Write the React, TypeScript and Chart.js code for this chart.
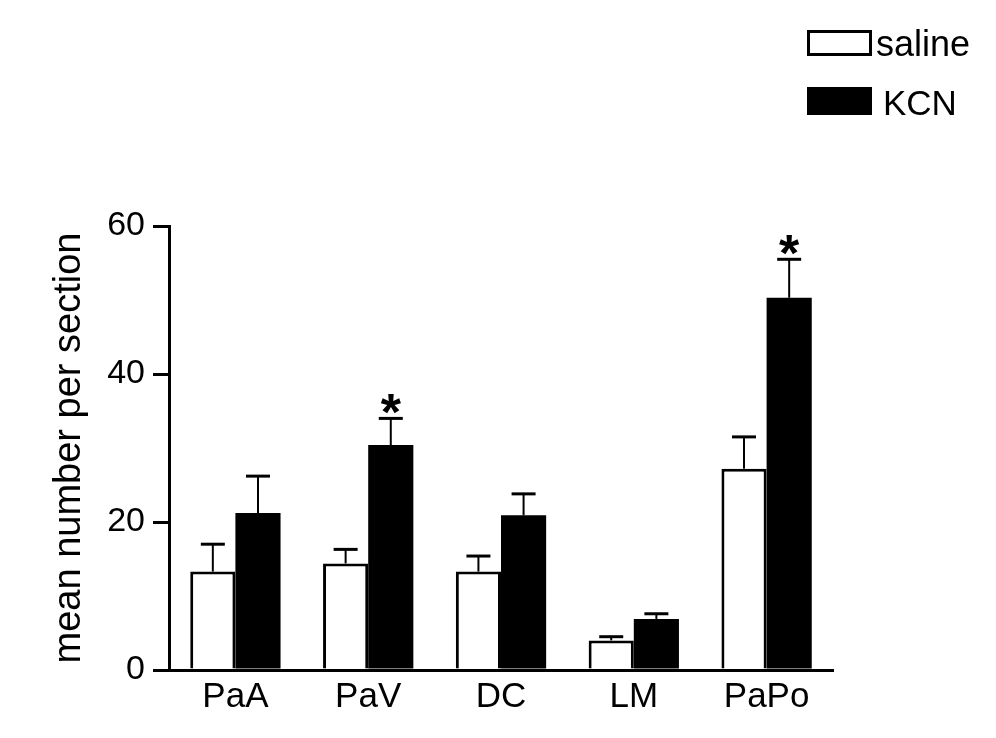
import React, { useEffect, useRef } from 'react';
import { Chart, registerables } from 'chart.js';

Chart.register(...registerables);

const categories = ['PaA', 'PaV', 'DC', 'LM', 'PaPo'];
const salineValues = [13.3, 14.4, 13.3, 4.0, 27.2];
const salineErrors = [3.7, 1.9, 2.1, 0.5, 4.3];
const kcnValues = [21.2, 30.4, 20.9, 6.9, 50.3];
const kcnErrors = [5.0, 3.6, 2.9, 0.7, 5.2];
const significant = [false, true, false, false, true];
const yTicks = [0, 20, 40, 60];
const seriesNames = ['saline', 'KCN'];
const yTitle = 'mean number per section';

const FONT = '"Liberation Sans", Arial, Helvetica, sans-serif';

const errorBarPlugin = {
  id: 'errorBars',
  afterDatasetsDraw(chart: any) {
    const ctx = chart.ctx;
    const y = chart.scales.y;
    const errs = [salineErrors, kcnErrors];
    chart.data.datasets.forEach((ds: any, di: number) => {
      const meta = chart.getDatasetMeta(di);
      meta.data.forEach((bar: any, i: number) => {
        const v = ds.data[i];
        const top = y.getPixelForValue(v + errs[di][i]);
        const base = y.getPixelForValue(v);
        ctx.save();
        ctx.strokeStyle = '#000';
        ctx.lineWidth = 2;
        ctx.beginPath();
        ctx.moveTo(bar.x, base);
        ctx.lineTo(bar.x, top);
        ctx.stroke();
        ctx.lineWidth = 3;
        ctx.beginPath();
        ctx.moveTo(bar.x - 12, top);
        ctx.lineTo(bar.x + 12, top);
        ctx.stroke();
        if (di === 1 && significant[i]) {
          ctx.fillStyle = '#000';
          ctx.font = `bold 52px ${FONT}`;
          ctx.textAlign = 'center';
          ctx.textBaseline = 'alphabetic';
          ctx.fillText('*', bar.x, top + 12);
        }
        ctx.restore();
      });
    });
  },
};

const legendPlugin = {
  id: 'customLegend',
  afterDraw(chart: any) {
    const ctx = chart.ctx;
    ctx.save();
    ctx.lineWidth = 3;
    ctx.strokeStyle = '#000';
    ctx.fillStyle = '#fff';
    ctx.fillRect(808.5, 31.5, 62, 23);
    ctx.strokeRect(808.5, 31.5, 62, 23);
    ctx.fillStyle = '#000';
    ctx.fillRect(807, 87, 65, 28);
    ctx.textAlign = 'left';
    ctx.textBaseline = 'alphabetic';
    ctx.font = `36px ${FONT}`;
    ctx.fillText(seriesNames[0], 876, 56);
    ctx.font = `35px ${FONT}`;
    ctx.fillText(seriesNames[1], 883, 115);
    ctx.restore();
  },
};

export default function App() {
  const ref = useRef<HTMLCanvasElement | null>(null);
  useEffect(() => {
    if (!ref.current) return;
    const chart = new Chart(ref.current, {
      type: 'bar',
      data: {
        labels: categories,
        datasets: [
          {
            label: seriesNames[0],
            data: salineValues,
            backgroundColor: '#fff',
            borderColor: '#000',
            borderWidth: 3,
            categoryPercentage: 0.68,
            barPercentage: 1,
          },
          {
            label: seriesNames[1],
            data: kcnValues,
            backgroundColor: '#000',
            borderColor: '#000',
            borderWidth: 0,
            categoryPercentage: 0.68,
            barPercentage: 1,
          },
        ],
      },
      options: {
        responsive: false,
        animation: false,
        layout: { padding: { left: 0, right: 163, top: 226, bottom: 0 } },
        plugins: { legend: { display: false }, tooltip: { enabled: false } },
        scales: {
          x: {
            afterFit: (s: any) => { s.height = 68; },
            grid: { display: true, drawOnChartArea: false, drawTicks: false },
            border: { display: true, color: '#000', width: 3 },
            ticks: { color: '#000', font: { family: FONT, size: 35 }, padding: 6 },
          },
          y: {
            min: 0,
            max: 60,
            afterFit: (s: any) => { s.width = 169; },
            afterBuildTicks: (s: any) => { s.ticks = yTicks.map((v) => ({ value: v })); },
            grid: { display: true, drawOnChartArea: false, drawTicks: true, tickLength: 16, color: '#000', lineWidth: 3 },
            border: { display: true, color: '#000', width: 3 },
            ticks: { color: '#000', font: { family: FONT, size: 34 }, padding: 8 },
            title: { display: true, text: yTitle, color: '#000', font: { family: FONT, size: 38 }, padding: { top: 47, bottom: 0 } },
          },
        },
      },
      plugins: [errorBarPlugin, legendPlugin],
    });
    return () => chart.destroy();
  }, []);
  return (
    <div style={{ position: 'absolute', left: 0, top: 0, width: 996, height: 738, background: '#fff' }}>
      <canvas ref={ref} width={996} height={738} />
    </div>
  );
}
